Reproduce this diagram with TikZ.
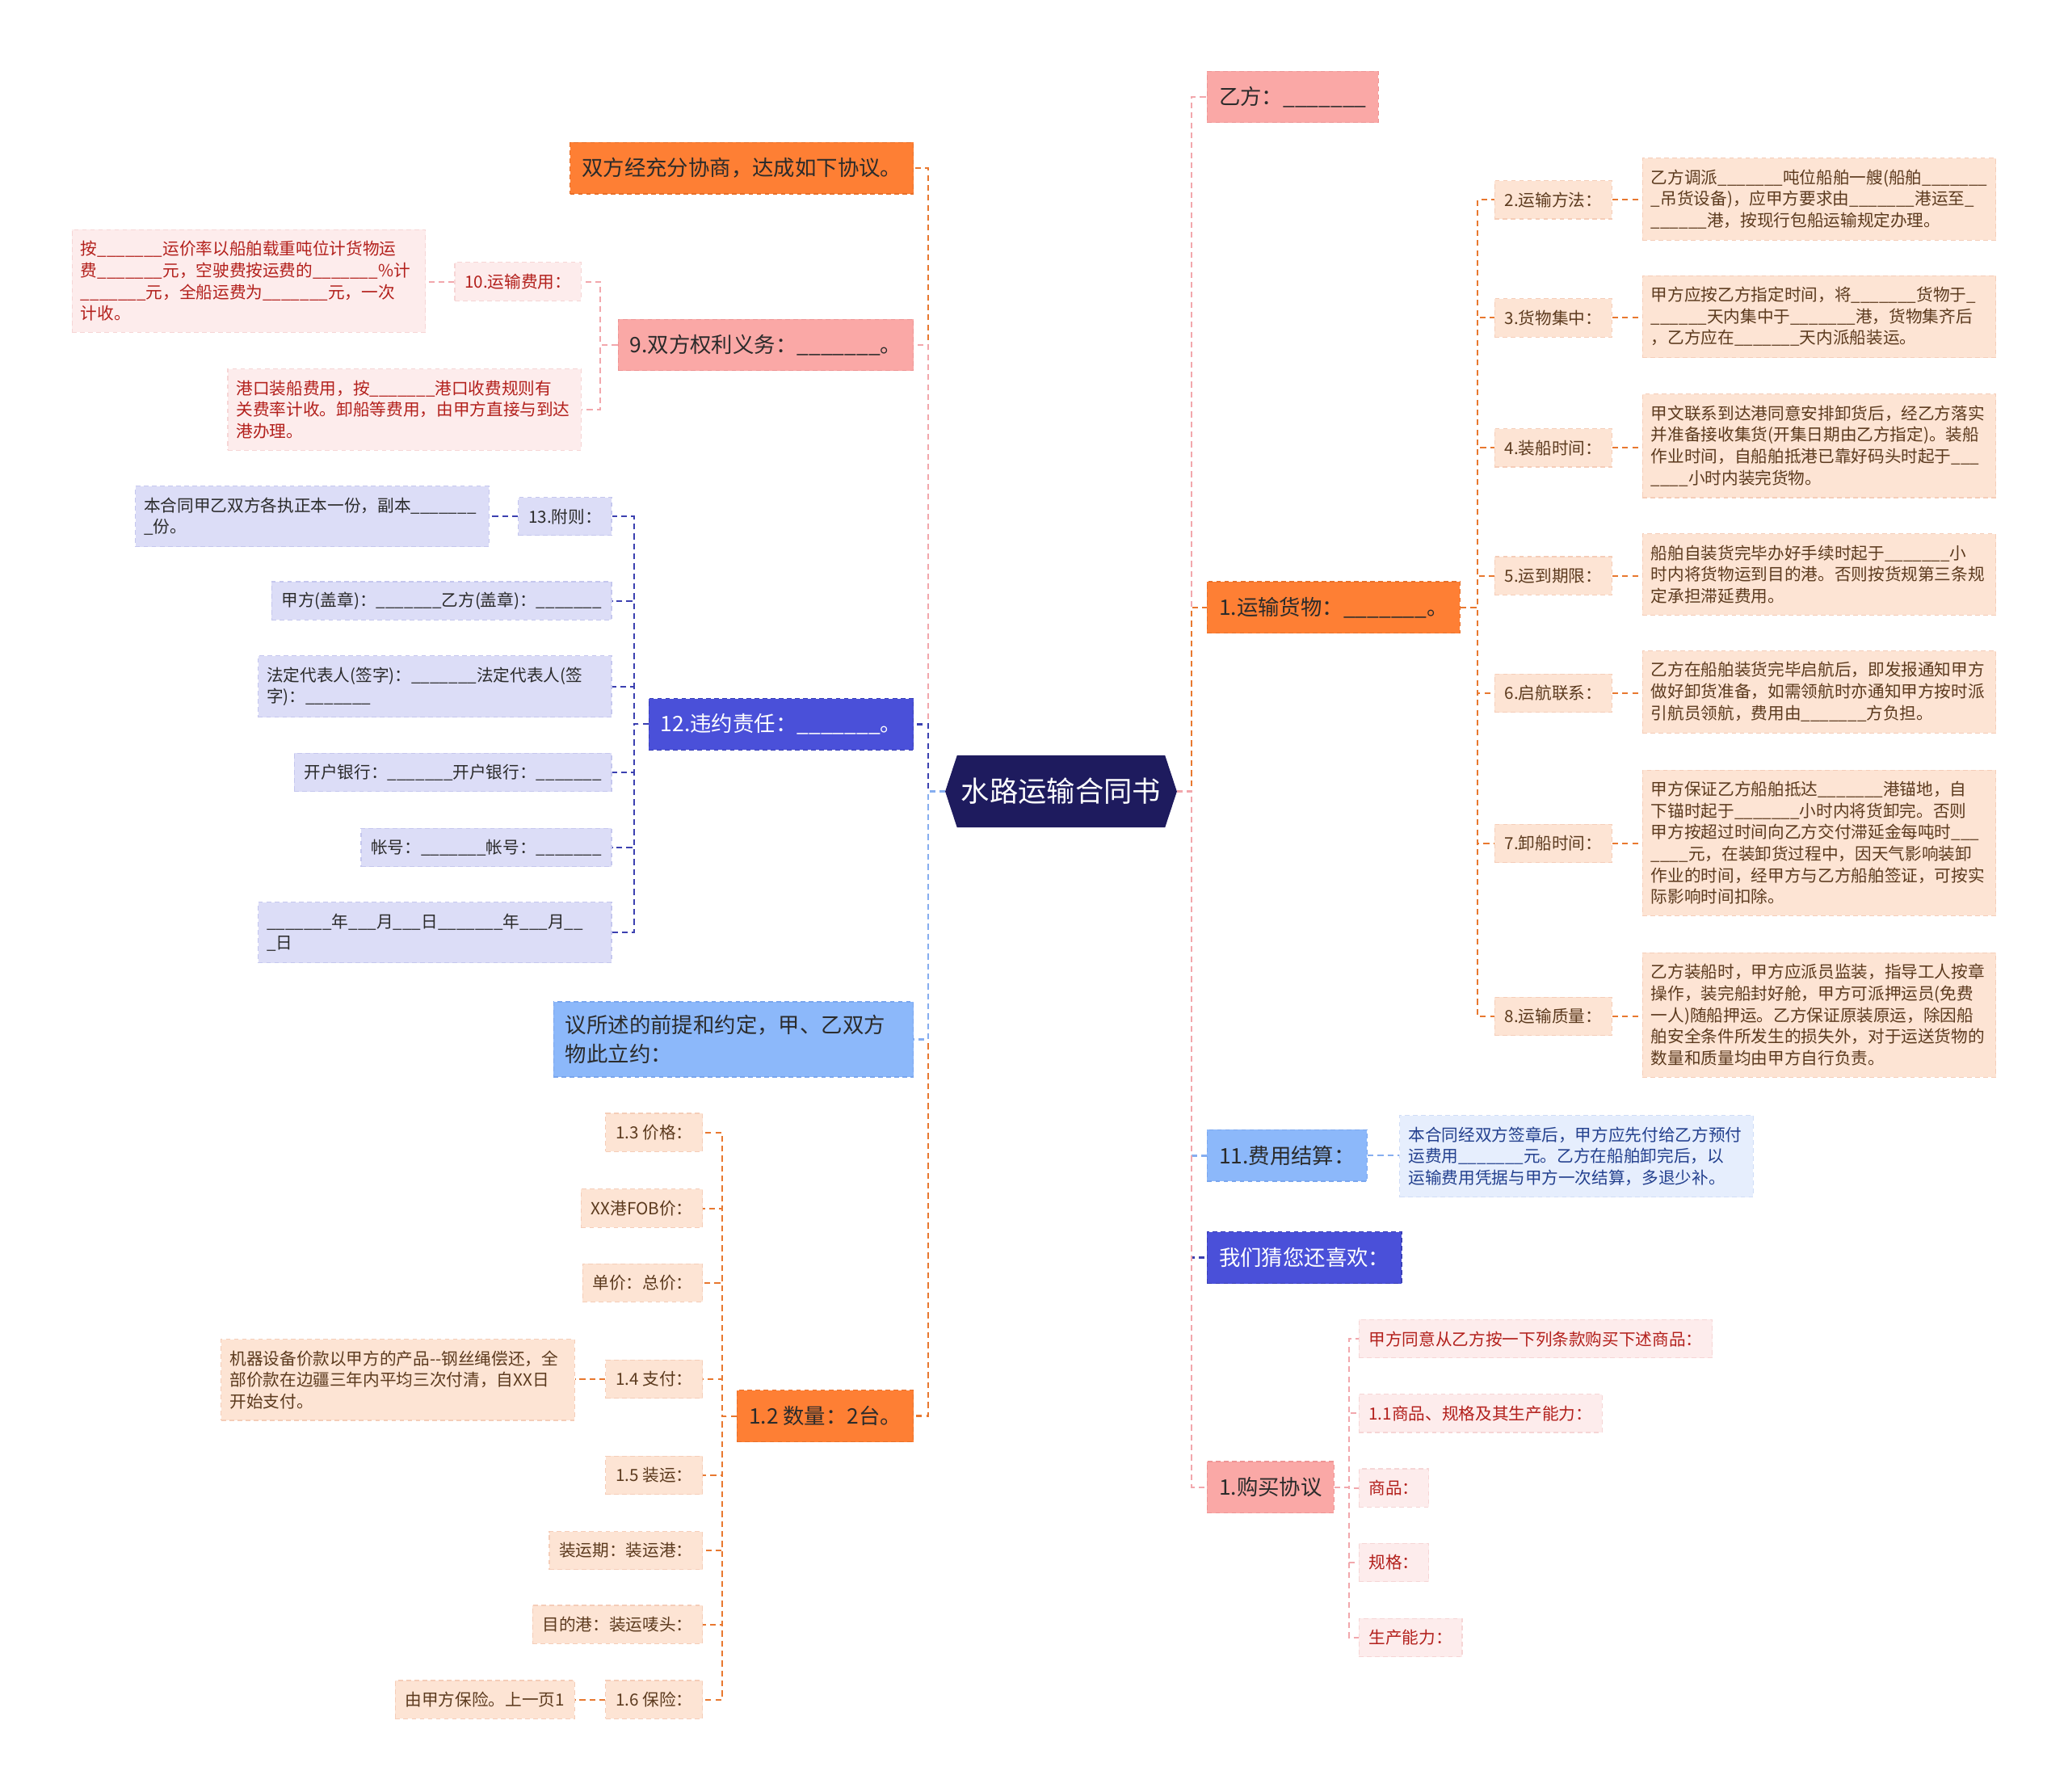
\documentclass[tikz,border=0pt]{standalone}
\usepackage{fontspec}
\setmainfont{Noto Sans CJK SC}
\usepackage{tikz}
\usetikzlibrary{positioning,calc,backgrounds}
\definecolor{rootc}{HTML}{1E1B5E}
\definecolor{orfill}{HTML}{FE7F34}
\definecolor{orline}{HTML}{E8702A}
\definecolor{orlink}{HTML}{E8782F}
\definecolor{pkfill}{HTML}{FAA8A6}
\definecolor{pkline}{HTML}{EE9494}
\definecolor{pklink}{HTML}{F2A7AC}
\definecolor{bvfill}{HTML}{4A50D9}
\definecolor{bvline}{HTML}{3A40B8}
\definecolor{bvlink}{HTML}{3B40B0}
\definecolor{lbfill}{HTML}{8CB8FA}
\definecolor{lbline}{HTML}{7AA6EE}
\definecolor{lblink}{HTML}{86AEF0}
\definecolor{peach}{HTML}{FDE4D4}
\definecolor{peachln}{HTML}{F5CDB8}
\definecolor{rose}{HTML}{FDECEC}
\definecolor{roseln}{HTML}{F6D5D5}
\definecolor{lav}{HTML}{DCDDF7}
\definecolor{lavln}{HTML}{C5C7EE}
\definecolor{sky}{HTML}{E6EEFD}
\definecolor{skyln}{HTML}{D0DDF7}
\definecolor{ink}{HTML}{2B2B2B}
\definecolor{brown}{HTML}{5C3A1E}
\definecolor{redtx}{HTML}{B3201C}
\definecolor{navytx}{HTML}{23408E}
\newcommand{\bk}{\_\_\_\_\_\_\_}

\begin{document}
\begin{tikzpicture}[x=0.02cm,y=-0.02cm,
  font=\fontsize{7.2}{9.3}\selectfont,
  box/.style={inner xsep=0.15cm,dash pattern=on 2pt off 1.5pt,line width=0.4pt},
  big/.style={box,minimum height=0.78cm,inner xsep=0.18cm,inner ysep=0.2cm,font=\fontsize{9.2}{12.5}\selectfont,text=ink},
  lbl/.style={box,minimum height=0.58cm},
  dtl/.style={box,text width=5.1cm,align=left,inner xsep=0.13cm,inner ysep=0.17cm},
  orbox/.style={big,fill=orfill,draw=orline},
  pkbox/.style={big,fill=pkfill,draw=pkline},
  bvbox/.style={big,fill=bvfill,draw=bvline,text=white},
  lbbox/.style={big,fill=lbfill,draw=lbline},
  peachbox/.style={fill=peach,draw=peachln,text=brown},
  rosebox/.style={fill=rose,draw=roseln,text=redtx},
  lavbox/.style={fill=lav,draw=lavln,text=ink},
  skybox/.style={fill=sky,draw=skyln,text=navytx},
  root/.style={minimum width=3.5cm,minimum height=1.08cm,text=white,font=\fontsize{12.3}{14}\selectfont},
  link/.style={dash pattern=on 2.5pt off 1.8pt,line width=0.9pt},
  sublink/.style={dash pattern=on 2.5pt off 1.8pt,line width=0.7pt}]
\useasboundingbox (0,0) rectangle (1568,1358);

\node[root] (root) at (804.5,600) {水路运输合同书};

% left side
\node[orbox,anchor=east] (l1) at (693,127.5) {双方经充分协商，达成如下协议。};
\node[pkbox,anchor=east] (l2) at (693,261.5) {9.双方权利义务：\bk{}。};
\node[bvbox,anchor=east] (l3) at (693,549) {12.违约责任：\bk{}。};
\node[lbbox,anchor=east,text width=5.1cm,align=left] (l4) at (693,788) {议所述的前提和约定，甲、乙双方\\物此立约：};
\node[orbox,anchor=east] (l5) at (693,1073.5) {1.2 数量：2台。};

\node[lbl,rosebox,anchor=east] (a1) at (441,213.5) {10.运输费用：};
\node[dtl,rosebox,anchor=east] (a1d) at (323,213) {按\bk{}运价率以船舶载重吨位计货物运\\费\bk{}元，空驶费按运费的\bk{}\%计\\\bk{}元，全船运费为\bk{}元，一次\\计收。};
\node[dtl,rosebox,anchor=east] (a2) at (441,310.5) {港口装船费用，按\bk{}港口收费规则有\\关费率计收。卸船等费用，由甲方直接与到达\\港办理。};

\node[lbl,lavbox,anchor=east] (b1) at (464,391.5) {13.附则：};
\node[dtl,lavbox,anchor=east] (b1d) at (371,391.5) {本合同甲乙双方各执正本一份，副本\bk{}\\\_份。};
\node[lbl,lavbox,anchor=east] (b2) at (464,455.5) {甲方(盖章)：\bk{}乙方(盖章)：\bk{}};
\node[dtl,lavbox,anchor=east] (b3) at (464,520.5) {法定代表人(签字)：\bk{}法定代表人(签\\字)：\bk{}};
\node[lbl,lavbox,anchor=east] (b4) at (464,585.5) {开户银行：\bk{}开户银行：\bk{}};
\node[lbl,lavbox,anchor=east] (b5) at (464,642.5) {帐号：\bk{}帐号：\bk{}};
\node[dtl,lavbox,anchor=east] (b6) at (464,707) {\bk{}年\_\_\_月\_\_\_日\bk{}年\_\_\_月\_\_\\\_日};

\node[lbl,peachbox,anchor=east] (q1) at (533,858.5) {1.3 价格：};
\node[lbl,peachbox,anchor=east] (q2) at (533,916) {XX港FOB价：};
\node[lbl,peachbox,anchor=east] (q3) at (533,972.5) {单价：总价：};
\node[lbl,peachbox,anchor=east] (q4) at (533,1045.5) {1.4 支付：};
\node[dtl,peachbox,anchor=east] (q4d) at (436,1046) {机器设备价款以甲方的产品-{}-钢丝绳偿还，全\\部价款在边疆三年内平均三次付清，自XX日\\开始支付。};
\node[lbl,peachbox,anchor=east] (q5) at (533,1118.5) {1.5 装运：};
\node[lbl,peachbox,anchor=east] (q6) at (533,1175.5) {装运期：装运港：};
\node[lbl,peachbox,anchor=east] (q7) at (533,1231.5) {目的港：装运唛头：};
\node[lbl,peachbox,anchor=east] (q8) at (533,1288.5) {1.6 保险：};
\node[lbl,peachbox,anchor=east] (q8d) at (436,1288.5) {由甲方保险。上一页1};

% right side
\node[pkbox,anchor=west] (r1) at (915,73.5) {乙方：\bk{}};
\node[orbox,anchor=west] (r2) at (915,460.5) {1.运输货物：\bk{}。};
\node[lbbox,anchor=west] (r3) at (915,876) {11.费用结算：};
\node[bvbox,anchor=west] (r4) at (915,953.5) {我们猜您还喜欢：};
\node[pkbox,anchor=west] (r5) at (915,1127.5) {1.购买协议};

\node[lbl,peachbox,anchor=west] (t2) at (1133,151.5) {2.运输方法：};
\node[dtl,peachbox,anchor=west] (d2) at (1245,151) {乙方调派\bk{}吨位船舶一艘(船舶\bk{}\\\_吊货设备)，应甲方要求由\bk{}港运至\_\\\_\_\_\_\_\_港，按现行包船运输规定办理。};
\node[lbl,peachbox,anchor=west] (t3) at (1133,241) {3.货物集中：};
\node[dtl,peachbox,anchor=west] (d3) at (1245,240) {甲方应按乙方指定时间，将\bk{}货物于\_\\\_\_\_\_\_\_天内集中于\bk{}港，货物集齐后\\，乙方应在\bk{}天内派船装运。};
\node[lbl,peachbox,anchor=west] (t4) at (1133,339.5) {4.装船时间：};
\node[dtl,peachbox,anchor=west] (d4) at (1245,338) {甲文联系到达港同意安排卸货后，经乙方落实\\并准备接收集货(开集日期由乙方指定)。装船\\作业时间，自船舶抵港已靠好码头时起于\_\_\_\\\_\_\_\_小时内装完货物。};
\node[lbl,peachbox,anchor=west] (t5) at (1133,436.5) {5.运到期限：};
\node[dtl,peachbox,anchor=west] (d5) at (1245,435.5) {船舶自装货完毕办好手续时起于\bk{}小\\时内将货物运到目的港。否则按货规第三条规\\定承担滞延费用。};
\node[lbl,peachbox,anchor=west] (t6) at (1133,525.5) {6.启航联系：};
\node[dtl,peachbox,anchor=west] (d6) at (1245,524.5) {乙方在船舶装货完毕启航后，即发报通知甲方\\做好卸货准备，如需领航时亦通知甲方按时派\\引航员领航，费用由\bk{}方负担。};
\node[lbl,peachbox,anchor=west] (t7) at (1133,639.5) {7.卸船时间：};
\node[dtl,peachbox,anchor=west] (d7) at (1245,639) {甲方保证乙方船舶抵达\bk{}港锚地，自\\下锚时起于\bk{}小时内将货卸完。否则\\甲方按超过时间向乙方交付滞延金每吨时\_\_\_\\\_\_\_\_元，在装卸货过程中，因天气影响装卸\\作业的时间，经甲方与乙方船舶签证，可按实\\际影响时间扣除。};
\node[lbl,peachbox,anchor=west] (t8) at (1133,770.5) {8.运输质量：};
\node[dtl,peachbox,anchor=west] (d8) at (1245,769.5) {乙方装船时，甲方应派员监装，指导工人按章\\操作，装完船封好舱，甲方可派押运员(免费\\一人)随船押运。乙方保证原装原运，除因船\\舶安全条件所发生的损失外，对于运送货物的\\数量和质量均由甲方自行负责。};

\node[dtl,skybox,anchor=west] (r3d) at (1061,876.5) {本合同经双方签章后，甲方应先付给乙方预付\\运费用\bk{}元。乙方在船舶卸完后，以\\运输费用凭据与甲方一次结算，多退少补。};

\node[lbl,rosebox,anchor=west] (u1) at (1030,1015) {甲方同意从乙方按一下列条款购买下述商品：};
\node[lbl,rosebox,anchor=west] (u2) at (1030,1071.5) {1.1商品、规格及其生产能力：};
\node[lbl,rosebox,anchor=west] (u3) at (1030,1128) {商品：};
\node[lbl,rosebox,anchor=west] (u4) at (1030,1184.5) {规格：};
\node[lbl,rosebox,anchor=west] (u5) at (1030,1241.5) {生产能力：};

% spines
\coordinate (ls) at ($(root.west)+(-13,0)$);
\coordinate (rs) at ($(root.east)+(11,0)$);
\coordinate (s9) at ($(l2.west)+(-13,0)$);
\coordinate (s12) at ($(l3.west)+(-11,0)$);
\coordinate (sq) at ($(l5.west)+(-11,0)$);
\coordinate (st) at ($(r2.east)+(13,0)$);
\coordinate (su) at ($(r5.east)+(11,0)$);

\begin{scope}[on background layer]
\fill[rootc] ($(root.north west)+(9,0)$) -- ($(root.north east)+(-9,0)$) -- (root.east)
  -- ($(root.south east)+(-9,0)$) -- ($(root.south west)+(9,0)$) -- (root.west) -- cycle;
\foreach \n/\c in {l1/orlink,l2/pklink,l3/bvlink,l5/orlink,l4/lblink}
  \draw[link,\c] (root.west) -- (ls) |- (\n.east);
\foreach \n/\c in {r1/pklink,r2/orlink,r3/lblink,r4/bvlink,r5/pklink}
  \draw[link,\c] (root.east) -- (rs) |- (\n.west);
\foreach \n in {a1,a2}
  \draw[sublink,pklink] (l2.west) -- (s9) |- (\n.east);
\draw[sublink,pklink] (a1.west) -- (a1.west -| a1d.east);
\foreach \n in {b1,b2,b3,b4,b5,b6}
  \draw[sublink,bvlink] (l3.west) -- (s12) |- (\n.east);
\draw[sublink,bvlink] (b1.west) -- (b1.west -| b1d.east);
\foreach \n in {q1,q2,q3,q4,q5,q6,q7,q8}
  \draw[sublink,orlink] (l5.west) -- (sq) |- (\n.east);
\draw[sublink,orlink] (q4.west) -- (q4.west -| q4d.east);
\draw[sublink,orlink] (q8.west) -- (q8d.east);
\foreach \i in {2,...,8}{
  \draw[sublink,orlink] (r2.east) -- (st) |- (t\i.west);
  \draw[sublink,orlink] (t\i.east) -- (t\i.east -| d\i.west);
}
\draw[sublink,lblink] (r3.east) -- (r3.east -| r3d.west);
\foreach \n in {u1,u2,u3,u4,u5}
  \draw[sublink,pklink] (r5.east) -- (su) |- (\n.west);
\end{scope}
\end{tikzpicture}
\end{document}
